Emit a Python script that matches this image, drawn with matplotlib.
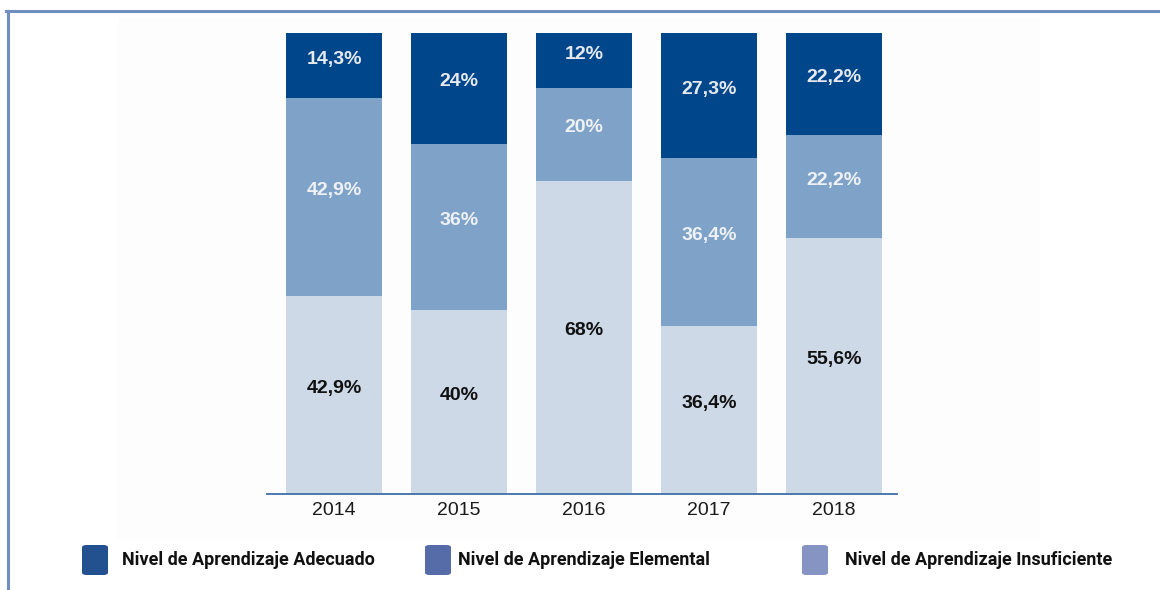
import numpy as np
import matplotlib.pyplot as plt
from matplotlib.patches import FancyBboxPatch, Rectangle

years = ["2014", "2015", "2016", "2017", "2018"]
insuficiente = [42.9, 40, 68, 36.4, 55.6]
elemental = [42.9, 36, 20, 36.4, 22.2]
adecuado = [14.3, 24, 12, 27.3, 22.2]

series_names = ["Nivel de Aprendizaje Adecuado",
                "Nivel de Aprendizaje Elemental",
                "Nivel de Aprendizaje Insuficiente"]
bar_colors = ["#cdd9e6", "#7fa3c8", "#00468b"]      # insuficiente, elemental, adecuado
legend_colors = ["#23508f", "#566ca9", "#8694c3"]   # as drawn in the legend
label_colors = ["#111111", "#eef1f5", "#e6eaf0"]


def fmt(v):
    s = ("%.1f" % v).rstrip("0").rstrip(".")
    return s.replace(".", ",") + "%"


fig = plt.figure(figsize=(11.6, 5.9), dpi=100)

# frame of the original picture (left and top edge only)
fig.add_artist(plt.Line2D([7.5 / 1160, 7.5 / 1160], [0, 1 - 11 / 590],
                          color="#6f90bf", lw=2.2, transform=fig.transFigure))
fig.add_artist(plt.Line2D([6.4 / 1160, 1], [1 - 11 / 590, 1 - 11 / 590],
                          color="#6f90bf", lw=2.2, transform=fig.transFigure))
# very faint plot panel
fig.add_artist(Rectangle((117 / 1160, 50 / 590), 923 / 1160, 523 / 590,
                         facecolor="#fdfdfd", edgecolor="none",
                         transform=fig.transFigure, zorder=0))

ax = fig.add_axes([267 / 1160, 96 / 590, 630 / 1160, 461 / 590])
ax.patch.set_alpha(0)

x = np.arange(len(years))
width = 0.77
bottom = np.zeros(len(years))
for vals, col, tcol in zip([insuficiente, elemental, adecuado], bar_colors, label_colors):
    vals = np.array(vals)
    ax.bar(x, vals, width, bottom=bottom, color=col, edgecolor="none")
    for xi, b, v in zip(x, bottom, vals):
        ax.text(xi, b + v / 2 + 1.4, fmt(v), ha="center", va="center",
                fontsize=14, fontweight="bold", color=tcol,
                family="Liberation Sans")
    bottom += vals

ax.set_xlim(-0.536, 4.504)
ax.set_ylim(0, 100)
ax.set_xticks(x)
ax.set_xticklabels(years, fontsize=14, family="Liberation Sans", color="#1a1a1a")
ax.tick_params(axis="x", length=0, pad=6)
ax.set_yticks([])
for side in ["top", "right", "left"]:
    ax.spines[side].set_visible(False)
ax.spines["bottom"].set_color("#3f6fa6")
ax.spines["bottom"].set_linewidth(1.3)

# legend, laid out by hand to match the reference
leg_box_x = [82, 425, 802]
leg_text_x = [122, 458, 845]
for name, col, bx, tx in zip(series_names, legend_colors, leg_box_x, leg_text_x):
    fig.add_artist(FancyBboxPatch((bx / 1160, (590 - 575) / 590), 26 / 1160, 30 / 590,
                                  boxstyle="round,pad=0,rounding_size=0.004",
                                  facecolor=col, edgecolor="none",
                                  transform=fig.transFigure))
    fig.text(tx / 1160, (590 - 560) / 590, name, fontsize=13, fontweight="bold",
             family="Roboto", color="#111111", va="center", ha="left")

fig.savefig("out.png", dpi=100)
